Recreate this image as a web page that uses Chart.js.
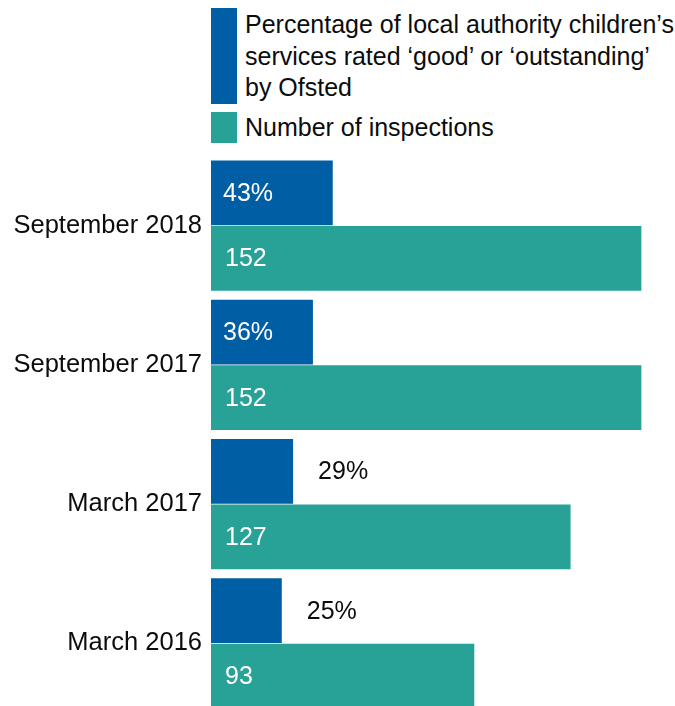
<!DOCTYPE html>
<html>
<head>
<meta charset="utf-8">
<title>Children's services inspections</title>
<script src="https://cdn.jsdelivr.net/npm/chart.js@4.4.1/dist/chart.umd.min.js"></script>
<style>
  html, body { margin: 0; padding: 0; background: #fff; overflow: hidden; }
  #wrap { position: relative; width: 675px; height: 706px; overflow: hidden; }
  #chart { position: absolute; left: 0; top: 0; }
  #legend { position: absolute; left: 211px; top: 8px; margin: 0; padding: 0; list-style: none;
            font: 25px "Liberation Sans", Arial, sans-serif; color: #0b0c0c; line-height: 31.5px; }
  #legend li { position: relative; padding-left: 34px; margin-bottom: 8px; white-space: pre-line; }
  #legend li span.box { position: absolute; left: 0; top: 0; width: 26px; bottom: 0; }
  #legend li:first-child { padding-top: 1px; }
</style>
</head>
<body>
<div id="wrap">
  <ul id="legend"></ul>
  <canvas id="chart"></canvas>
</div>
<script>
// rows are listed top to bottom
const periods = ['September 2018', 'September 2017', 'March 2017', 'March 2016'];
const goodOrOutstanding = [43, 36, 29, 25];   // per cent
const inspections = [152, 152, 127, 93];

const seriesLabels = [
  'Percentage of local authority children\u2019s\nservices rated \u2018good\u2019 or \u2018outstanding\u2019\nby Ofsted',
  'Number of inspections'
];
const seriesColors = ['#005ea5', '#28a197'];

const FONT = '"Liberation Sans", Arial, sans-serif';
const TEXT = '#0b0c0c';

// value labels: white inside the bar, or dark just past the end of short bars
const valueLabels = {
  id: 'valueLabels',
  afterDatasetsDraw(chart) {
    const ctx = chart.ctx;
    ctx.save();
    ctx.font = '25px ' + FONT;
    ctx.textBaseline = 'middle';
    ctx.textAlign = 'left';
    chart.data.datasets.forEach((ds, i) => {
      chart.getDatasetMeta(i).data.forEach((bar, j) => {
        const v = ds.data[j];
        const txt = i === 0 ? v + '%' : String(v);
        const width = bar.x - bar.base;
        if (width > 100) {
          ctx.fillStyle = '#fff';
          ctx.fillText(txt, bar.base + (i === 0 ? 12 : 14), bar.y + 1);
        } else {
          ctx.fillStyle = TEXT;
          ctx.fillText(txt, bar.x + 25, bar.y + 1);
        }
      });
    });
    ctx.restore();
  }
};

// legend built from the datasets, so the long label can wrap over three lines
const htmlLegend = {
  id: 'htmlLegend',
  afterUpdate(chart) {
    const ul = document.getElementById('legend');
    ul.innerHTML = '';
    chart.data.datasets.forEach(ds => {
      const li = document.createElement('li');
      const box = document.createElement('span');
      box.className = 'box';
      box.style.background = ds.backgroundColor;
      li.appendChild(box);
      li.appendChild(document.createTextNode(ds.label));
      ul.appendChild(li);
    });
  }
};

const canvas = document.getElementById('chart');
canvas.width = 675;
canvas.height = 713;

new Chart(canvas, {
  type: 'bar',
  data: {
    labels: periods,
    datasets: [
      { label: seriesLabels[0], data: goodOrOutstanding, backgroundColor: seriesColors[0] },
      { label: seriesLabels[1], data: inspections, backgroundColor: seriesColors[1] }
    ]
  },
  options: {
    indexAxis: 'y',
    responsive: false,
    animation: false,
    categoryPercentage: 0.9407,
    barPercentage: 0.992,
    layout: { padding: { top: 156, right: 11, left: 0, bottom: 0 } },
    scales: {
      x: { display: false, min: 0, max: 160 },
      y: {
        grid: { display: false, drawTicks: false },
        border: { display: false },
        ticks: { color: TEXT, padding: 9, font: { family: FONT, size: 25.5 } },
        afterFit(scale) {
          scale.width = 211;
          scale.paddingTop = 0;
          scale.paddingBottom = 0;
        }
      }
    },
    plugins: {
      legend: { display: false },
      tooltip: { enabled: false }
    }
  },
  plugins: [valueLabels, htmlLegend]
});
</script>
</body>
</html>
